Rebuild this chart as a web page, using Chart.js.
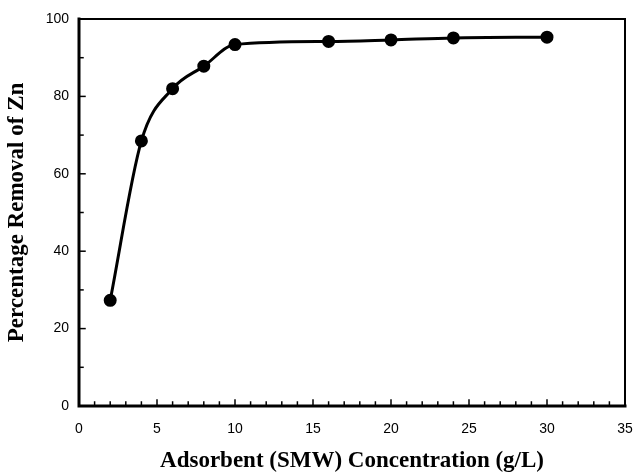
<!DOCTYPE html>
<html>
<head>
<meta charset="utf-8">
<script src="https://cdn.jsdelivr.net/npm/chart.js@4.4.0/dist/chart.umd.min.js"></script>
<style>
html,body{margin:0;padding:0;background:#fff;}
#wrap{width:634px;height:473px;}
</style>
</head>
<body>
<div id="wrap"><canvas id="c" width="634" height="473"></canvas></div>
<script>
const concentration = [2, 4, 6, 8, 10, 16, 20, 24, 30];
const removalZn = [27.3, 68.5, 82.0, 87.8, 93.4, 94.2, 94.6, 95.1, 95.3];
const xTicks = [0, 5, 10, 15, 20, 25, 30, 35];
const yTicks = [0, 20, 40, 60, 80, 100];

const framePlugin = {
  id: 'frame',
  afterDraw(chart) {
    const ctx = chart.ctx;
    const xs = chart.scales.x, ys = chart.scales.y;
    const l = xs.left, r = xs.right, t = ys.top, b = ys.bottom;
    ctx.save();
    ctx.strokeStyle = '#000';
    ctx.lineCap = 'square';
    ctx.lineWidth = 1.5;
    for (let v = xs.min; v <= xs.max; v += 1) {
      const px = xs.getPixelForValue(v);
      const len = (v % 5 === 0) ? 6 : 4;
      ctx.beginPath(); ctx.moveTo(px, b); ctx.lineTo(px, b - len); ctx.stroke();
    }
    for (let v = ys.min; v <= ys.max; v += 10) {
      const py = ys.getPixelForValue(v);
      const len = (v % 20 === 0) ? 6 : 4;
      ctx.beginPath(); ctx.moveTo(l, py); ctx.lineTo(l + len, py); ctx.stroke();
    }
    ctx.lineWidth = 2;
    ctx.beginPath(); ctx.moveTo(l, t); ctx.lineTo(r, t); ctx.lineTo(r, b); ctx.stroke();
    ctx.lineWidth = 3;
    ctx.beginPath(); ctx.moveTo(l, t); ctx.lineTo(l, b); ctx.lineTo(r, b); ctx.stroke();
    ctx.restore();
  }
};

new Chart(document.getElementById('c'), {
  type: 'line',
  data: {
    datasets: [{
      data: concentration.map((x, i) => ({x: x, y: removalZn[i]})),
      borderColor: '#000',
      backgroundColor: '#000',
      borderWidth: 3,
      pointRadius: 5,
      pointHoverRadius: 5,
      cubicInterpolationMode: 'monotone',
      fill: false
    }]
  },
  options: {
    responsive: false,
    animation: false,
    layout: { padding: { top: 19, right: 9, left: 0, bottom: 0 } },
    plugins: { legend: { display: false }, tooltip: { enabled: false } },
    scales: {
      x: {
        type: 'linear', min: 0, max: 35,
        afterBuildTicks: s => { s.ticks = xTicks.map(v => ({value: v})); },
        afterFit: s => { s.height = 67; s.paddingLeft = 0; s.paddingRight = 0; },
        grid: { display: false, drawTicks: false },
        border: { display: false },
        ticks: { color: '#000', font: { family: 'Liberation Sans', size: 14 }, padding: 15 },
        title: { display: true, text: 'Adsorbent (SMW) Concentration (g/L)', color: '#000',
          font: { family: 'Liberation Serif', size: 23, weight: 'bold', lineHeight: 1 }, padding: { top: 0, bottom: 0 } }
      },
      y: {
        min: 0, max: 100,
        afterBuildTicks: s => { s.ticks = yTicks.map(v => ({value: v})); },
        afterFit: s => { s.width = 79; s.paddingTop = 0; s.paddingBottom = 0; },
        grid: { display: false, drawTicks: false },
        border: { display: false },
        ticks: { color: '#000', font: { family: 'Liberation Sans', size: 14 }, padding: 10 },
        title: { display: true, text: 'Percentage Removal of Zn', color: '#000',
          font: { family: 'Liberation Serif', size: 23, weight: 'bold', lineHeight: 1 }, padding: { top: 6, bottom: 0 } }
      }
    }
  },
  plugins: [framePlugin]
});
</script>
</body>
</html>
